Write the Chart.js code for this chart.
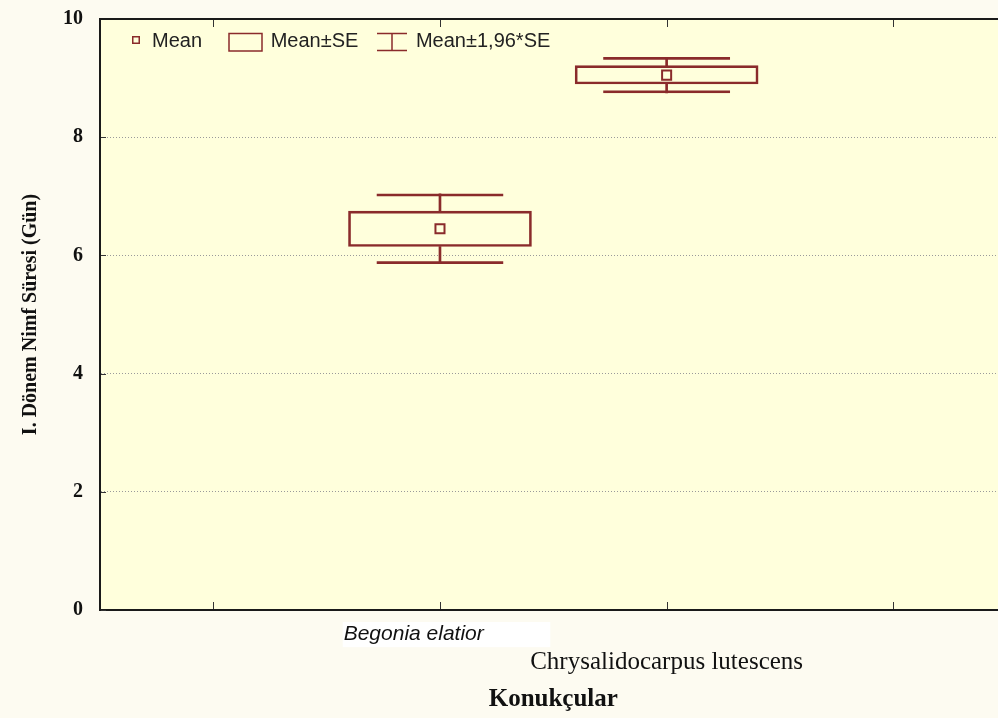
<!DOCTYPE html>
<html>
<head>
<meta charset="utf-8">
<script src="https://cdn.jsdelivr.net/npm/chart.js@4.4.1/dist/chart.umd.min.js"></script>
<style>
  html, body { margin: 0; padding: 0; overflow: hidden; background: #FDFBF1; }
  canvas { display: block; }
</style>
</head>
<body>
<canvas id="chart" width="1015" height="718"></canvas>
<script>
// First-stage nymph duration (days) on two host plants
const hosts = ['Begonia elatior', 'Chrysalidocarpus lutescens'];
const hostPos = [1, 2];
const meanDays = [6.45, 9.05];
const seLow = [6.15, 8.90];
const seHigh = [6.75, 9.21];
const ciLow = [5.86, 8.75];
const ciHigh = [7.04, 9.35];
const xTickValues = [0, 1, 2, 3];
const yTickStep = 2;
const legendLabels = ['Mean', 'Mean±SE', 'Mean±1,96*SE'];

const MAROON = '#8A2B2B';
const PLOT_BG = '#FFFFDC';
const PAGE_BG = '#FDFBF1';
const INK = '#1a1a1a';

// small drawn symbols for the legend
function makeIcon(w, h, paint) {
  const c = document.createElement('canvas');
  c.width = w; c.height = h;
  const g = c.getContext('2d');
  g.strokeStyle = MAROON;
  g.lineWidth = 1.5;
  paint(g);
  return c;
}
const legendIcons = [
  makeIcon(30, 24, g => g.strokeRect(20.75, 7.75, 6.5, 6.5)),
  makeIcon(36, 24, g => g.strokeRect(1, 4.5, 33, 17.5)),
  makeIcon(36, 24, g => {
    g.beginPath();
    g.moveTo(4, 4.5); g.lineTo(34, 4.5);
    g.moveTo(4, 21.5); g.lineTo(34, 21.5);
    g.moveTo(19, 4.5); g.lineTo(19, 21.5);
    g.stroke();
  })
];
const legendGaps = ['   ', ' ', ''];

// paper and plot-area fills
const backdrop = {
  id: 'backdrop',
  beforeDraw(chart) {
    const { ctx, chartArea: a } = chart;
    ctx.save();
    ctx.fillStyle = PAGE_BG;
    ctx.fillRect(0, 0, chart.width, chart.height);
    ctx.fillStyle = PLOT_BG;
    ctx.fillRect(a.left, a.top, a.right - a.left, a.bottom - a.top);
    ctx.restore();
  }
};

// top frame line and inward-pointing tick marks
const frameTicks = {
  id: 'frameTicks',
  afterDatasetsDraw(chart) {
    const { ctx, chartArea: a, scales: { x, y } } = chart;
    ctx.save();
    ctx.strokeStyle = '#333';
    ctx.lineWidth = 1;
    ctx.beginPath();
    x.ticks.forEach((t, i) => {
      const px = Math.round(x.getPixelForTick(i)) + 0.5;
      ctx.moveTo(px, a.bottom - 1); ctx.lineTo(px, a.bottom - 8);
      ctx.moveTo(px, a.top + 1); ctx.lineTo(px, a.top + 8);
    });
    y.ticks.forEach((t, i) => {
      const py = Math.round(y.getPixelForTick(i)) + 0.5;
      ctx.moveTo(a.left + 1, py); ctx.lineTo(a.left + 6, py);
    });
    ctx.stroke();
    ctx.strokeStyle = INK;
    ctx.lineWidth = 2;
    ctx.beginPath();
    ctx.moveTo(a.left - 1, a.top);
    ctx.lineTo(a.right + 2, a.top);
    ctx.stroke();
    ctx.restore();
  }
};

// one-row key inside the top-left corner of the plot
const innerKey = {
  id: 'innerKey',
  afterDraw(chart) {
    const { ctx, chartArea: a } = chart;
    const slot = 30, textGap = 10, pad = 12;
    const cy = a.top + 22;
    ctx.save();
    ctx.font = '20px "Liberation Sans", Arial, sans-serif';
    ctx.textBaseline = 'middle';
    ctx.textAlign = 'left';
    ctx.fillStyle = '#222';
    let x = a.left + pad;
    legendLabels.forEach((t, i) => {
      const ic = legendIcons[i];
      ctx.drawImage(ic, Math.round(x + slot / 2 - ic.width / 2), Math.round(cy - ic.height / 2));
      const label = t + legendGaps[i];
      ctx.fillText(label, x + slot + textGap, cy);
      x += slot + textGap + ctx.measureText(label).width + pad;
    });
    ctx.restore();
  }
};

const pts = arr => hostPos.map((p, i) => ({ x: p, y: arr[i] }));
const spans = (lo, hi) => hostPos.map((p, i) => ({ x: p, y: [lo[i], hi[i]] }));

new Chart(document.getElementById('chart'), {
  type: 'bar',
  data: {
    datasets: [
      {
        type: 'scatter',
        label: legendLabels[0],
        data: pts(meanDays),
        pointStyle: 'rect',
        pointRadius: 6.4,
        pointBorderWidth: 2,
        pointBorderColor: MAROON,
        pointBackgroundColor: 'rgba(0,0,0,0)',
        showLine: false
      },
      {
        label: legendLabels[1],
        data: spans(seLow, seHigh),
        barThickness: 183,
        grouped: false,
        backgroundColor: 'rgba(0,0,0,0)',
        borderColor: MAROON,
        borderWidth: 2,
        borderSkipped: false
      },
      {
        label: 'upper whisker',
        data: spans(seHigh, ciHigh),
        barThickness: 2,
        grouped: false,
        backgroundColor: MAROON,
        borderWidth: 0
      },
      {
        label: 'lower whisker',
        data: spans(ciLow, seLow),
        barThickness: 2,
        grouped: false,
        backgroundColor: MAROON,
        borderWidth: 0
      },
      {
        label: legendLabels[2],
        data: spans(ciLow, ciHigh),
        barThickness: 127,
        grouped: false,
        backgroundColor: 'rgba(0,0,0,0)',
        borderColor: MAROON,
        borderWidth: { top: 2, bottom: 2, left: 0, right: 0 },
        borderSkipped: false
      }
    ]
  },
  options: {
    responsive: false,
    animation: false,
    layout: { padding: { top: 19, right: 1, left: 0, bottom: 0 } },
    plugins: {
      tooltip: { enabled: false },
      legend: { display: false }
    },
    scales: {
      x: {
        type: 'linear',
        min: -0.5,
        max: 3.5,
        offset: false,
        afterBuildTicks: s => { s.ticks = xTickValues.map(v => ({ value: v })); },
        afterFit: s => { s.height = 108; s.paddingLeft = 0; s.paddingRight = 0; },
        grid: { display: false, drawTicks: false, offset: false },
        border: { display: true, width: 2, color: INK },
        ticks: {
          autoSkip: false,
          maxRotation: 0,
          minRotation: 0,
          padding: 12,
          color: '#111',
          callback: v => {
            const i = hostPos.indexOf(v);
            if (i === 0) return hosts[0] + '         ';
            if (i === 1) return ['', hosts[1]];
            return '';
          },
          font: c => (c.tick && c.tick.value === hostPos[0])
            ? { family: '"Liberation Sans", Arial, sans-serif', size: 21, style: 'italic', lineHeight: 1.2 }
            : { family: '"Liberation Serif", "Times New Roman", serif', size: 25, lineHeight: 1.09 },
          showLabelBackdrop: c => !!(c.tick && c.tick.value === hostPos[0]),
          backdropColor: '#FFFFFF',
          backdropPadding: { top: 0, bottom: 0, left: 1, right: 14 }
        },
        title: {
          display: true,
          text: 'Konukçular',
          color: '#111',
          font: { family: '"Liberation Serif", "Times New Roman", serif', size: 25, weight: 'bold' },
          padding: { top: 0, bottom: 3 }
        }
      },
      y: {
        min: 0,
        max: 10,
        afterFit: s => { s.width = 100; s.paddingTop = 0; s.paddingBottom = 0; },
        grid: { color: '#9a9a9a', lineWidth: 1, drawTicks: false },
        border: { display: true, width: 2, color: INK, dash: [1, 2] },
        ticks: {
          stepSize: yTickStep,
          padding: 17,
          color: '#111',
          font: { family: '"Liberation Serif", "Times New Roman", serif', size: 20, weight: 'bold' }
        },
        title: {
          display: true,
          text: 'I. Dönem Nimf Süresi (Gün)',
          color: '#111',
          font: { family: '"Liberation Serif", "Times New Roman", serif', size: 20, weight: 'bold' },
          padding: { top: 19, bottom: 0 }
        }
      }
    }
  },
  plugins: [backdrop, frameTicks, innerKey]
});
</script>
</body>
</html>
